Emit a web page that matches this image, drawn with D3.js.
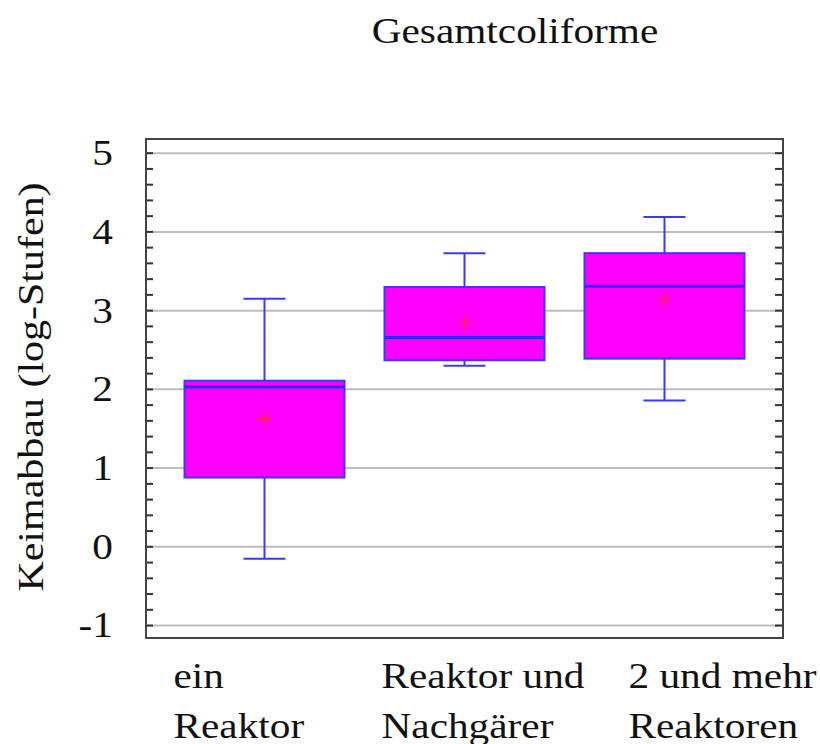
<!DOCTYPE html>
<html>
<head>
<meta charset="utf-8">
<script src="https://cdn.jsdelivr.net/npm/d3@7"></script>
<style>
  body { margin: 0; background: #fff; }
  svg text { font-family: 'Liberation Serif', 'Times New Roman', Times, serif; fill: #111; }
</style>
</head>
<body>
<div class="svg-container"></div>
<script>
var width = 820;
var height = 744;

// plot frame
var frame = { "left": 146, "right": 783, "top": 139, "bottom": 638 };

// data
var categories = ["ein Reaktor", "Reaktor und Nachgärer", "2 und mehr Reaktoren"];
var labelLines = [["ein", "Reaktor"], ["Reaktor und", "Nachgärer"], ["2 und mehr", "Reaktoren"]];
var whiskerHigh = [3.15, 3.73, 4.19];
var q3 = [2.11, 3.30, 3.73];
var median = [2.03, 2.66, 3.31];
var q1 = [0.88, 2.37, 2.39];
var whiskerLow = [-0.15, 2.30, 1.86];
var means = [1.63, 2.84, 3.14];
var yTicks = [-1, 0, 1, 2, 3, 4, 5];
var title = "Gesamtcoliforme";
var yTitle = "Keimabbau (log-Stufen)";

var svg = d3.select(".svg-container")
            .append("svg")
            .attr("width", width)
            .attr("height", height)
            .attr("font-family", "'Liberation Serif', serif");

var scaleY = d3.scaleLinear()
               .domain([-1.158, 5.18])
               .range([frame.bottom, frame.top]);

var scaleX = d3.scalePoint()
               .domain(categories)
               .range([frame.left, frame.right])
               .padding(0.5925);

var boxW = scaleX.step() * 0.8;
var capW = 42;
var stretch = 1.18; // text in the reference is wider than plain Times

// gridlines
svg.append("g")
   .selectAll("line")
   .data(yTicks)
   .enter()
   .append("line")
   .attr("x1", frame.left)
   .attr("x2", frame.right)
   .attr("y1", function(d) { return scaleY(d); })
   .attr("y2", function(d) { return scaleY(d); })
   .attr("stroke", "#bdbdbd")
   .attr("stroke-width", 2);

// minor ticks on both sides (inward)
var minor = d3.range(-1, 5.01, 0.2);
svg.append("g")
   .selectAll("line")
   .data(minor)
   .enter()
   .append("line")
   .attr("x1", frame.left)
   .attr("x2", frame.left + 7)
   .attr("y1", function(d) { return scaleY(d); })
   .attr("y2", function(d) { return scaleY(d); })
   .attr("stroke", "#333")
   .attr("stroke-width", 2);

svg.append("g")
   .selectAll("line")
   .data(minor)
   .enter()
   .append("line")
   .attr("x1", frame.right - 8)
   .attr("x2", frame.right)
   .attr("y1", function(d) { return scaleY(d); })
   .attr("y2", function(d) { return scaleY(d); })
   .attr("stroke", "#333")
   .attr("stroke-width", 2);

// frame
svg.append("rect")
   .attr("x", frame.left)
   .attr("y", frame.top)
   .attr("width", frame.right - frame.left)
   .attr("height", frame.bottom - frame.top)
   .attr("fill", "none")
   .attr("stroke", "#444")
   .attr("stroke-width", 2);

// boxes
var boxes = svg.append("g")
               .selectAll("g")
               .data(categories)
               .enter()
               .append("g");

// whiskers
boxes.append("line")
     .attr("x1", function(d) { return scaleX(d); })
     .attr("x2", function(d) { return scaleX(d); })
     .attr("y1", function(d, i) { return scaleY(whiskerHigh[i]); })
     .attr("y2", function(d, i) { return scaleY(whiskerLow[i]); })
     .attr("stroke", "#3a3aff")
     .attr("stroke-width", 2);

boxes.append("line")
     .attr("x1", function(d) { return scaleX(d) - capW / 2; })
     .attr("x2", function(d) { return scaleX(d) + capW / 2; })
     .attr("y1", function(d, i) { return scaleY(whiskerHigh[i]); })
     .attr("y2", function(d, i) { return scaleY(whiskerHigh[i]); })
     .attr("stroke", "#3a3aff")
     .attr("stroke-width", 2);

boxes.append("line")
     .attr("x1", function(d) { return scaleX(d) - capW / 2; })
     .attr("x2", function(d) { return scaleX(d) + capW / 2; })
     .attr("y1", function(d, i) { return scaleY(whiskerLow[i]); })
     .attr("y2", function(d, i) { return scaleY(whiskerLow[i]); })
     .attr("stroke", "#3a3aff")
     .attr("stroke-width", 2);

boxes.append("rect")
     .attr("x", function(d) { return scaleX(d) - boxW / 2; })
     .attr("width", boxW)
     .attr("y", function(d, i) { return scaleY(q3[i]); })
     .attr("height", function(d, i) { return scaleY(q1[i]) - scaleY(q3[i]); })
     .attr("fill", "#ff00ff")
     .attr("stroke", "#3a3aff")
     .attr("stroke-width", 2);

boxes.append("line")
     .attr("x1", function(d) { return scaleX(d) - boxW / 2; })
     .attr("x2", function(d) { return scaleX(d) + boxW / 2; })
     .attr("y1", function(d, i) { return scaleY(median[i]); })
     .attr("y2", function(d, i) { return scaleY(median[i]); })
     .attr("stroke", "#2a2aff")
     .attr("stroke-width", 3);

// mean markers
boxes.append("path")
     .attr("d", function(d, i) {
         var x = scaleX(d), y = scaleY(means[i]);
         return "M" + (x - 7) + "," + y + "H" + (x + 7) + "M" + x + "," + (y - 7) + "V" + (y + 7);
     })
     .attr("stroke", "#ff2a2a")
     .attr("stroke-width", 1.5)
     .attr("fill", "none");

// y tick labels
svg.append("g")
   .selectAll("text")
   .data(yTicks)
   .enter()
   .append("text")
   .attr("transform", function(d) { return "translate(113," + scaleY(d) + ") scale(" + stretch + ",1)"; })
   .attr("dy", "0.34em")
   .attr("text-anchor", "end")
   .style("font-size", "35px")
   .text(function(d) { return d; });

// category labels, two lines, left aligned
var labelShift = [-91, -83, -36];
var labels = svg.append("g")
                .selectAll("text")
                .data(categories)
                .enter()
                .append("text")
                .attr("transform", function(d, i) { return "translate(" + (scaleX(d) + labelShift[i]) + ",688) scale(" + stretch + ",1)"; })
                .style("font-size", "35px");

labels.selectAll("tspan")
      .data(function(d, i) { return labelLines[i]; })
      .enter()
      .append("tspan")
      .attr("x", 0)
      .attr("y", function(d, j) { return j * 50; })
      .text(function(d) { return d; });

// title
svg.append("text")
   .attr("transform", "translate(515,43) scale(" + stretch + ",1)")
   .attr("text-anchor", "middle")
   .style("font-size", "35px")
   .text(title);

// y axis label
svg.append("text")
   .attr("transform", "translate(43,387) rotate(-90) scale(1.2,1)")
   .attr("text-anchor", "middle")
   .style("font-size", "35px")
   .text(yTitle);
</script>
</body>
</html>
